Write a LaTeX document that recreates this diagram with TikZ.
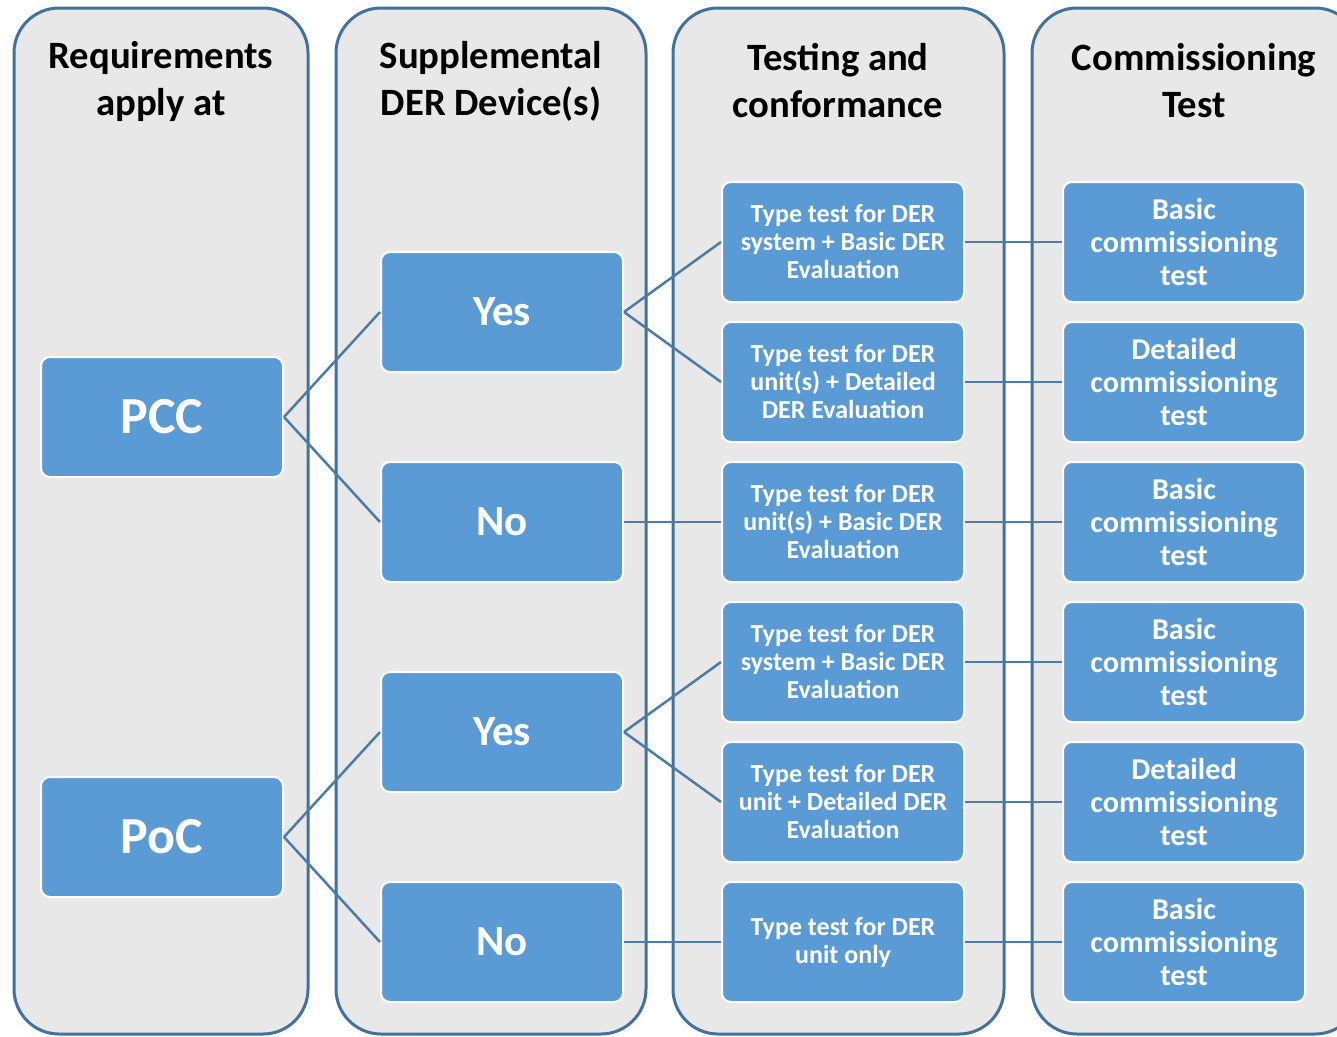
\documentclass[tikz,border=0pt]{standalone}
\usepackage{fontspec}
\setmainfont{Carlito}
\definecolor{laneline}{HTML}{41719C}
\definecolor{lanefill}{HTML}{E8E8E8}
\definecolor{boxfill}{HTML}{5B9BD5}
\definecolor{wireblue}{HTML}{4A7BAA}
\begin{document}
\begin{tikzpicture}[x=1pt,y=-1pt,
  lane/.style={draw=laneline, line width=3pt, fill=lanefill, rounded corners=45pt},
  head/.style={font=\fontsize{38.7}{47}\selectfont\bfseries, align=center, text=black, inner sep=0pt},
  box/.style={draw=white, line width=2pt, fill=boxfill, rounded corners=9pt,
    minimum width=242pt, minimum height=120pt, inner sep=0pt, text=white, align=center},
  big/.style={box, font=\fontsize{52}{58}\selectfont\bfseries},
  mid/.style={box, font=\fontsize{43}{48}\selectfont\bfseries},
  small/.style={box, font=\fontsize{26}{28}\selectfont\bfseries},
  comm/.style={box, font=\fontsize{30.2}{33}\selectfont\bfseries},
  wire/.style={draw=wireblue, line width=2.5pt}]
\useasboundingbox (0,0) rectangle (1337,1036);
\begin{scope}
\clip (0,0) rectangle (1337,1036);
% swim lanes
\draw[lane] (14,8) rectangle (308,1034);
\draw[lane] (336,8) rectangle (646,1034);
\draw[lane] (673,8) rectangle (1004,1034);
\draw[lane] (1032,8) rectangle (1360,1034);
\end{scope}
% lane headings
\node[head] (h1) at (161,81) {Requirements\\apply at};
\node[head] (h2) at (491,81) {Supplemental\\DER Device(s)};
\node[head] (h3) at (838,81) {Testing and\\conformance};
\node[head] (h4) at (1194,81) {Commissioning\\Test};
% first column
\node[big] (pcc) at (162,417) {PCC};
\node[big] (poc) at (162,837) {PoC};
% second column
\node[mid] (yes1) at (502,312) {Yes};
\node[mid] (no1)  at (502,522) {No};
\node[mid] (yes2) at (502,732) {Yes};
\node[mid] (no2)  at (502,942) {No};
% third column
\node[small] (t1) at (843,242) {Type test for DER\\system + Basic DER\\Evaluation};
\node[small] (t2) at (843,382) {Type test for DER\\unit(s) + Detailed\\DER Evaluation};
\node[small] (t3) at (843,522) {Type test for DER\\unit(s) + Basic DER\\Evaluation};
\node[small] (t4) at (843,662) {Type test for DER\\system + Basic DER\\Evaluation};
\node[small] (t5) at (843,802) {Type test for DER\\unit + Detailed DER\\Evaluation};
\node[small] (t6) at (843,942) {Type test for DER\\unit only};
% fourth column
\node[comm] (c1) at (1184,242) {Basic\\commissioning\\test};
\node[comm] (c2) at (1184,382) {Detailed\\commissioning\\test};
\node[comm] (c3) at (1184,522) {Basic\\commissioning\\test};
\node[comm] (c4) at (1184,662) {Basic\\commissioning\\test};
\node[comm] (c5) at (1184,802) {Detailed\\commissioning\\test};
\node[comm] (c6) at (1184,942) {Basic\\commissioning\\test};
% connectors
\draw[wire] (pcc.east) -- (yes1.west);
\draw[wire] (pcc.east) -- (no1.west);
\draw[wire] (poc.east) -- (yes2.west);
\draw[wire] (poc.east) -- (no2.west);
\draw[wire] (yes1.east) -- (t1.west);
\draw[wire] (yes1.east) -- (t2.west);
\draw[wire] (no1.east) -- (t3.west);
\draw[wire] (yes2.east) -- (t4.west);
\draw[wire] (yes2.east) -- (t5.west);
\draw[wire] (no2.east) -- (t6.west);
\foreach \i in {1,...,6} \draw[wire] (t\i.east) -- (c\i.west);
\end{tikzpicture}
\end{document}
